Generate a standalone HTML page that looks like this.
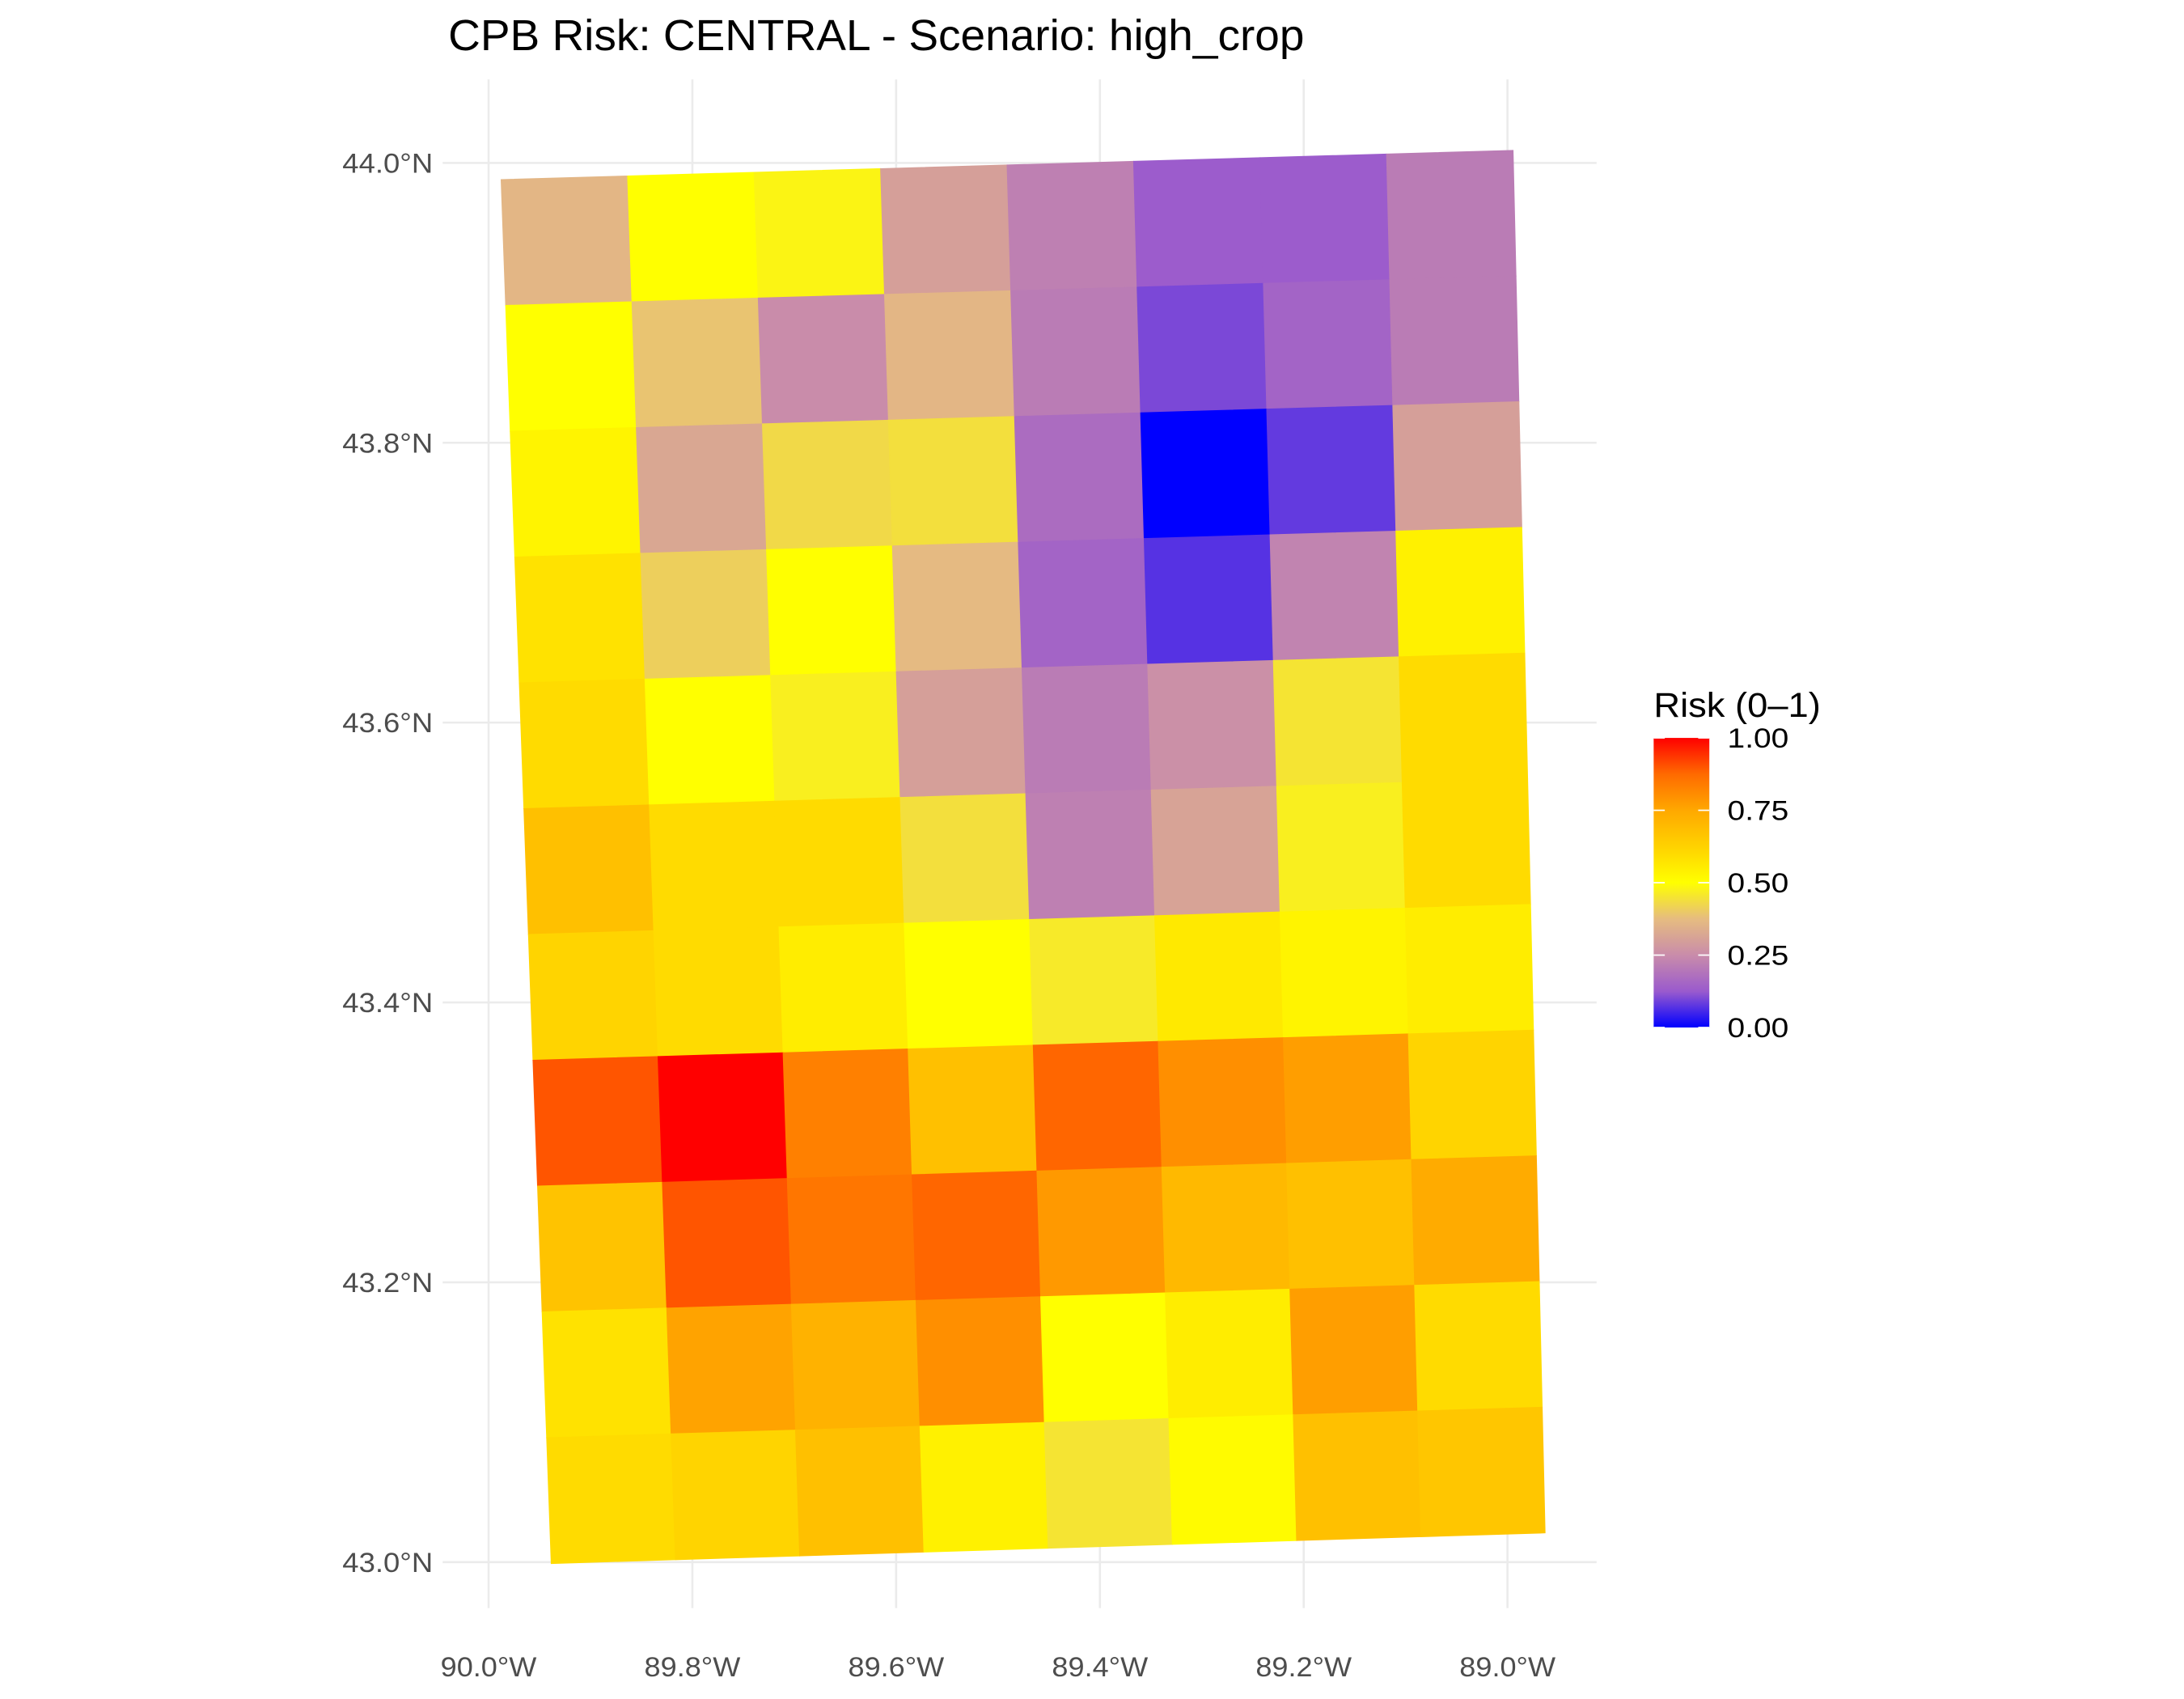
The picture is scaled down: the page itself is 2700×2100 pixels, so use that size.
<!DOCTYPE html>
<html><head><meta charset="utf-8"><style>
html,body{margin:0;padding:0;background:#fff;}
svg{display:block;font-family:"Liberation Sans",sans-serif;}
</style></head><body>
<svg id="chart" width="2700" height="2100" viewBox="0 0 1569 1220.3" xmlns="http://www.w3.org/2000/svg">
<defs>
<linearGradient id="cb" x1="0" y1="1" x2="0" y2="0">
<stop offset="0" stop-color="#0000FF"/><stop offset="0.125" stop-color="#9A5ACD"/>
<stop offset="0.25" stop-color="#C98CAA"/><stop offset="0.375" stop-color="#E6BC80"/>
<stop offset="0.5" stop-color="#FFFF00"/><stop offset="0.625" stop-color="#FFD200"/>
<stop offset="0.75" stop-color="#FFA800"/><stop offset="0.875" stop-color="#FF6A00"/>
<stop offset="1" stop-color="#FF0000"/>
</linearGradient>
</defs>
<rect width="1569" height="1220.3" fill="#fff"/>
<g id="grid"></g>
<g id="cells"></g>
<g id="axes"></g>
<text x="322" y="36" font-size="31" textLength="615" lengthAdjust="spacingAndGlyphs" fill="#000">CPB Risk: CENTRAL - Scenario: high_crop</text>
<g>
<text x="1188" y="515" font-size="25" textLength="120" lengthAdjust="spacingAndGlyphs" fill="#000">Risk (0–1)</text>
<rect x="1188" y="530" width="40" height="208" fill="url(#cb)"/>
<g id="legticks"></g>
</g>
</svg>
<script>
const latTicks=[44.0,43.8,43.6,43.4,43.2,43.0];
const lonTicks=[90.0,89.8,89.6,89.4,89.2,89.0];
const legendTicks=[1.00,0.75,0.50,0.25,0.00];
const risk=[
[0.36,0.50,0.48,0.30,0.22,0.13,0.13,0.21],
[0.50,0.39,0.25,0.36,0.21,0.10,0.15,0.21],
[0.53,0.32,0.43,0.44,0.17,0.00,0.08,0.30],
[0.58,0.41,0.50,0.37,0.15,0.07,0.23,0.54],
[0.60,0.50,0.47,0.30,0.21,0.26,0.45,0.60],
[0.68,0.60,0.60,0.44,0.22,0.31,0.47,0.60],
[0.62,0.60,0.55,0.50,0.46,0.56,0.53,0.55],
[0.90,1.00,0.83,0.68,0.88,0.80,0.77,0.62],
[0.67,0.90,0.85,0.88,0.78,0.70,0.68,0.74],
[0.58,0.76,0.72,0.80,0.50,0.55,0.77,0.60],
[0.60,0.62,0.68,0.54,0.45,0.51,0.68,0.66]
];
const NS="http://www.w3.org/2000/svg";
function yLat(v){return 117+(44.0-v)*1005;}
function xLon(v){return 351+(90.0-v)*732;}
const stops=[[0,[0,0,255]],[0.125,[154,90,205]],[0.25,[201,140,170]],[0.375,[230,188,128]],[0.5,[255,255,0]],[0.625,[255,210,0]],[0.75,[255,168,0]],[0.875,[255,106,0]],[1,[255,0,0]]];
function col(v){for(let i=1;i<stops.length;i++){if(v<=stops[i][0]){const a=stops[i-1],b=stops[i],t=(v-a[0])/(b[0]-a[0]);const c=a[1].map((x,k)=>Math.round(x+(b[1][k]-x)*t));return `rgb(${c})`;}}return 'rgb(255,0,0)';}
function mk(tag,attrs,parent){const e=document.createElementNS(NS,tag);for(const k in attrs)e.setAttribute(k,attrs[k]);parent.appendChild(e);return e;}
const grid=document.getElementById('grid');
latTicks.forEach(v=>{const l=mk('line',{x1:318,x2:1147,y1:yLat(v),y2:yLat(v),stroke:'#ebebeb','stroke-width':1.5},grid);

});
lonTicks.forEach(v=>{const l=mk('line',{x1:xLon(v),x2:xLon(v),y1:57,y2:1155,stroke:'#ebebeb','stroke-width':1.5},grid);

});
const TL=[360,129],TR=[1087,108],BL=[396,1123],BR=[1110,1101];
const R=risk.length,C=risk[0].length;
function pt(u,w){const top=[TL[0]+(TR[0]-TL[0])*u,TL[1]+(TR[1]-TL[1])*u],bot=[BL[0]+(BR[0]-BL[0])*u,BL[1]+(BR[1]-BL[1])*u];return [top[0]+(bot[0]-top[0])*w,top[1]+(bot[1]-top[1])*w];}
const cells=document.getElementById('cells');
for(let r=0;r<R;r++)for(let c=0;c<C;c++){
const p=[pt(c/C,r/R),pt((c+1)/C,r/R),pt((c+1)/C,(r+1)/R),pt(c/C,(r+1)/R)];
const f=col(risk[r][c]);
const poly=mk('polygon',{points:p.map(q=>q.join(',')).join(' '),fill:f,stroke:f,'stroke-width':0.6},cells);

}
const axes=document.getElementById('axes');
latTicks.forEach(v=>{const t=mk('text',{x:311,y:yLat(v)+7,'text-anchor':'end','font-size':20,textLength:65,lengthAdjust:'spacingAndGlyphs',fill:'#4d4d4d'},axes);t.textContent=v.toFixed(1)+'°N';

});
lonTicks.forEach(v=>{const t=mk('text',{x:xLon(v),y:1204,'text-anchor':'middle','font-size':20,textLength:69,lengthAdjust:'spacingAndGlyphs',fill:'#4d4d4d'},axes);t.textContent=v.toFixed(1)+'°W';

});
const lt=document.getElementById('legticks');
legendTicks.forEach(v=>{const y=738-v*208;
mk('line',{x1:1188,x2:1196,y1:y,y2:y,stroke:'#fff','stroke-width':1},lt);
mk('line',{x1:1220,x2:1228,y1:y,y2:y,stroke:'#fff','stroke-width':1},lt);
const t=mk('text',{x:1241,y:y+7,'font-size':20,textLength:44,lengthAdjust:'spacingAndGlyphs',fill:'#000'},lt);t.textContent=v.toFixed(2);

});
</script>
</body></html>
